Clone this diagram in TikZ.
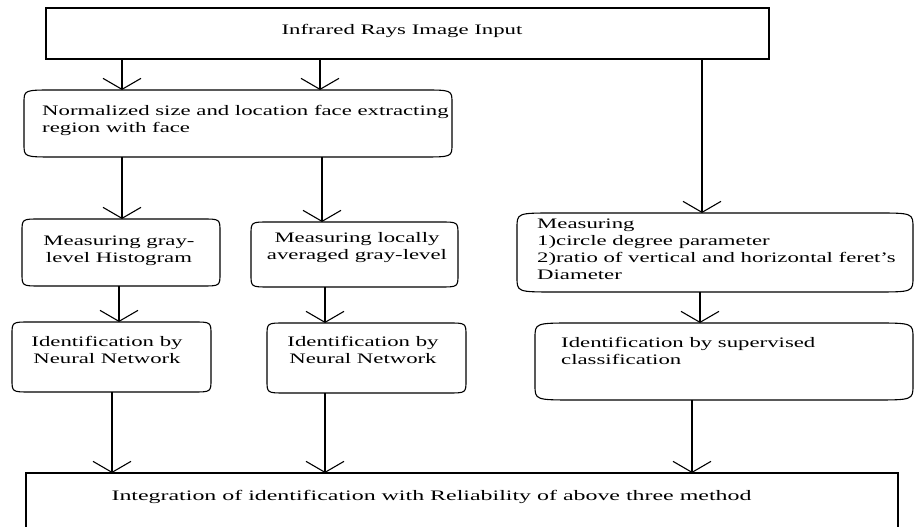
\documentclass[tikz,border=0pt]{standalone}
\usepackage{fontspec}
\setmainfont{Liberation Serif}[FakeStretch=1.57]
\usetikzlibrary{arrows.meta}
\newcommand\softbox[3]{%
  \draw[boxline] ([xshift=#2]#1.north west) -- ([xshift=-#2]#1.north east)
    .. controls (#1.north east) .. ([yshift=-#3]#1.north east)
    -- ([yshift=#3]#1.south east)
    .. controls (#1.south east) .. ([xshift=-#2]#1.south east)
    -- ([xshift=#2]#1.south west)
    .. controls (#1.south west) .. ([yshift=#3]#1.south west)
    -- ([yshift=-#3]#1.north west)
    .. controls (#1.north west) .. ([xshift=#2]#1.north west) -- cycle;}
\begin{document}
\begin{tikzpicture}[x=1pt,y=1pt,
  boxline/.style={line width=1.1pt,black},
  area/.style={draw=none,rectangle,inner sep=0pt,outer sep=0pt},
  sqbox/.style={draw,line width=1.1pt,rectangle,inner sep=0pt,outer sep=0pt},
  lbl/.style={inner sep=0pt,font=\fontsize{14.5}{17}\selectfont},
  arr/.style={line width=1.1pt,-{Straight Barb[length=11pt,width=38pt,line width=1.1pt]}},
  ln/.style={line width=1.1pt}]
\useasboundingbox (0,0) rectangle (914,527);
\clip (0,0) rectangle (914,527);
% boxes
\node[sqbox,minimum width=723pt,minimum height=51pt] (inp) at (407.5,493.5) {};
\node[area,minimum width=428pt,minimum height=67pt] (norm) at (238,403.5) {};
\node[area,minimum width=198pt,minimum height=67pt] (lm) at (121,274.5) {};
\node[area,minimum width=207pt,minimum height=65pt] (mm) at (354.5,272.5) {};
\node[area,minimum width=396pt,minimum height=79pt] (rm) at (715,274.5) {};
\node[area,minimum width=199pt,minimum height=70pt] (li) at (111.5,170) {};
\node[area,minimum width=199pt,minimum height=70pt] (mi) at (366.5,169) {};
\node[area,minimum width=378pt,minimum height=77pt] (ri) at (724,165.5) {};
\node[sqbox,minimum width=872pt,minimum height=72pt] (out) at (462,18) {};
\softbox{norm}{30pt}{13pt}
\softbox{lm}{18pt}{13pt}
\softbox{mm}{18pt}{13pt}
\softbox{rm}{38pt}{15pt}
\softbox{li}{18pt}{13pt}
\softbox{mi}{18pt}{13pt}
\softbox{ri}{40pt}{15pt}
% texts
\node[lbl] (tinp) at (402,496) {Infrared Rays Image Input};
\node[lbl,align=left,anchor=north west] (tnorm) at (42,421.5) {Normalized size and location face extracting\\region with face};
\node[lbl,align=center] (tlm) at (119,276.5) {Measuring gray-\\level Histogram};
\node[lbl,align=center] (tmm) at (357,279) {Measuring locally\\averaged gray-level};
\node[lbl,align=left,anchor=north west] (trm) at (537,308.5) {Measuring\\1)circle degree parameter\\2)ratio of vertical and horizontal feret's\\Diameter};
\node[lbl,align=center] (tli) at (107,177) {Identification by\\Neural Network};
\node[lbl,align=center] (tmi) at (363,177) {Identification by\\Neural Network};
\node[lbl,align=left,anchor=north west] (tri) at (561,189.5) {Identification by supervised\\classification};
\node[lbl] (tout) at (431.5,30) {\scalebox{1.05}[1]{Integration of identification with Reliability of above three method}};
% connector x positions
\coordinate (a1) at (122,0);
\coordinate (a2) at (320,0);
\coordinate (a3) at (702,0);
\coordinate (b1) at (122,0);
\coordinate (b2) at (322,0);
\coordinate (c1) at (119,0);
\coordinate (c2) at (325,0);
\coordinate (c3) at (700,0);
\coordinate (d1) at (112,0);
\coordinate (d2) at (325,0);
\coordinate (d3) at (692,0);
% connectors
\draw[arr] (inp.south -| a1) -- (norm.north -| a1);
\draw[arr] (inp.south -| a2) -- (norm.north -| a2);
\draw[arr] (inp.south -| a3) -- (rm.north -| a3);
\draw[arr] (norm.south -| b1) -- (lm.north -| b1);
\draw[arr] (norm.south -| b2) -- (mm.north -| b2);
\draw[arr] (lm.south -| c1) -- (li.north -| c1);
\draw[arr] (mm.south -| c2) -- (mi.north -| c2);
\draw[arr] (rm.south -| c3) -- (ri.north -| c3);
\draw[arr] (li.south -| d1) -- (out.north -| d1);
\draw[arr] (mi.south -| d2) -- (out.north -| d2);
\draw[arr] (ri.south -| d3) -- (out.north -| d3);
\end{tikzpicture}
\end{document}
